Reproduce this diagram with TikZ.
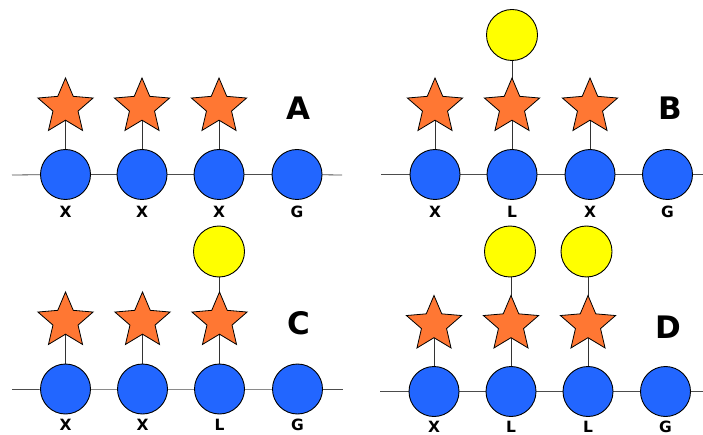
\documentclass[tikz,border=0pt]{standalone}
\usepackage{fontspec}
\setmainfont{DejaVu Sans}
\usetikzlibrary{shapes.geometric}
\pgfdeclarelayer{bg}
\pgfsetlayers{bg,main}
\definecolor{bluefill}{RGB}{34,102,255}
\definecolor{starfill}{RGB}{255,119,51}
\definecolor{yelfill}{RGB}{255,255,0}
\tikzset{
  res/.style={circle,draw=black,fill=bluefill,line width=0.9pt,minimum size=50pt,inner sep=0pt},
  stargly/.style={star,star points=5,star point ratio=2.2,draw=black,fill=starfill,line width=0.8pt,minimum size=58pt,inner sep=0pt},
  yel/.style={circle,draw=black,fill=yelfill,line width=0.9pt,minimum size=51pt,inner sep=0pt},
  lab/.style={font=\bfseries\fontsize{15.5}{15.5}\selectfont,inner sep=0pt},
  panel/.style={font=\bfseries\fontsize{31}{31}\selectfont,inner sep=0pt},
  conn/.style={line width=0.8pt,draw=black!80},
  back/.style={line width=0.8pt,draw=black!70}
}
\begin{document}
\begin{tikzpicture}[x=1pt,y=-1pt]
\useasboundingbox (0,0) rectangle (703,435);
% ---------- Panel A ----------
\coordinate (aL) at (12,175);
\coordinate (aR) at (342,175);
\node[res] (a1) at (65.5,174.5) {};
\node[res] (a2) at (142,174.5) {};
\node[res] (a3) at (219,174.5) {};
\node[res] (a4) at (297,174.5) {};
\node[stargly] (as1) at (65.5,107) {};
\node[stargly] (as2) at (142,107) {};
\node[stargly] (as3) at (219,107) {};
\node[lab] (al1) at (65.5,212) {X};
\node[lab] (al2) at (142,212) {X};
\node[lab] (al3) at (219,212) {X};
\node[lab] (al4) at (297,212) {G};
\node[panel] (pA) at (298.5,108) {A};
% ---------- Panel B ----------
\coordinate (bL) at (381,174.5);
\coordinate (bR) at (703,174.5);
\node[res] (b1) at (435,174.5) {};
\node[res] (b2) at (512,174.5) {};
\node[res] (b3) at (590,174.5) {};
\node[res] (b4) at (667.5,174.5) {};
\node[stargly] (bs1) at (435,107) {};
\node[stargly] (bs2) at (512,107) {};
\node[stargly] (bs3) at (590,107) {};
\node[yel] (by2) at (512,35) {};
\node[lab] (bl1) at (435,212) {X};
\node[lab] (bl2) at (512,212) {L};
\node[lab] (bl3) at (590,212) {X};
\node[lab] (bl4) at (667.5,212) {G};
\node[panel] (pB) at (670,108) {B};
% ---------- Panel C ----------
\coordinate (cL) at (12,389);
\coordinate (cR) at (343,389);
\node[res] (c1) at (65.5,389) {};
\node[res] (c2) at (142.5,389) {};
\node[res] (c3) at (219.5,389) {};
\node[res] (c4) at (297.5,389) {};
\node[stargly] (cs1) at (65.5,321) {};
\node[stargly] (cs2) at (142.5,321) {};
\node[stargly] (cs3) at (219.5,321) {};
\node[yel] (cy3) at (219,251.5) {};
\node[lab] (cl1) at (65.5,425) {X};
\node[lab] (cl2) at (142.5,425) {X};
\node[lab] (cl3) at (219.5,425) {L};
\node[lab] (cl4) at (297.5,425) {G};
\node[panel] (pC) at (299,323) {C};
% ---------- Panel D ----------
\coordinate (dL) at (380,391.5);
\coordinate (dR) at (703,391.5);
\node[res] (d1) at (434,391.5) {};
\node[res] (d2) at (511,391.5) {};
\node[res] (d3) at (588,391.5) {};
\node[res] (d4) at (665.5,391.5) {};
\node[stargly] (ds1) at (434,324.5) {};
\node[stargly] (ds2) at (511,324.5) {};
\node[stargly] (ds3) at (588,324.5) {};
\node[yel] (dy2) at (510,251.5) {};
\node[yel] (dy3) at (586.5,251.5) {};
\node[lab] (dl1) at (434,426.5) {X};
\node[lab] (dl2) at (511,426.5) {L};
\node[lab] (dl3) at (588,426.5) {L};
\node[lab] (dl4) at (665.5,426.5) {G};
\node[panel] (pD) at (668,327) {D};
% ---------- connectors ----------
\begin{pgfonlayer}{bg}
\draw[back] (aL) -- (a1.center) -- (a2.center) -- (a3.center) -- (a4.center) -- (aR);
\draw[back] (bL) -- (b1.center) -- (b2.center) -- (b3.center) -- (b4.center) -- (bR);
\draw[back] (cL) -- (c1.center) -- (c2.center) -- (c3.center) -- (c4.center) -- (cR);
\draw[back] (dL) -- (d1.center) -- (d2.center) -- (d3.center) -- (d4.center) -- (dR);
\foreach \s/\c in {as1/a1,as2/a2,as3/a3,bs1/b1,bs2/b2,bs3/b3,cs1/c1,cs2/c2,cs3/c3,ds1/d1,ds2/d2,ds3/d3}
  \draw[conn] (\s.center) -- (\c.center);
\foreach \y/\s in {by2/bs2,cy3/cs3,dy2/ds2,dy3/ds3}
  \draw[conn] (\y.center) -- (\s.center |- \y.center) -- (\s.center);
\end{pgfonlayer}
\end{tikzpicture}
\end{document}
